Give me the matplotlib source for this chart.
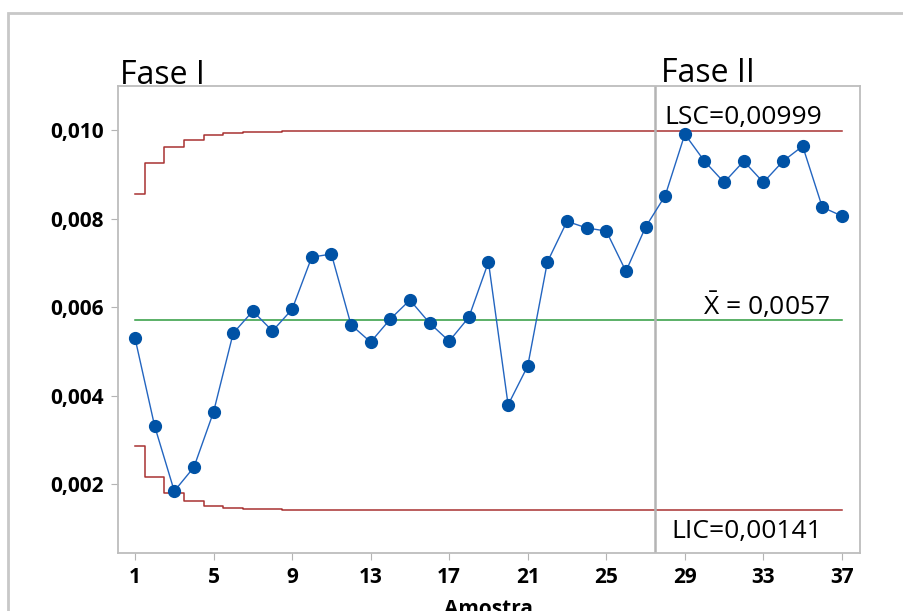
import numpy as np
import matplotlib.pyplot as plt
from matplotlib.patches import Rectangle
from matplotlib.ticker import FuncFormatter

# dados (carta X individual)
amostra = np.arange(1, 38)
valores = [0.00530, 0.00331, 0.00184, 0.00238, 0.00363, 0.00541, 0.00591, 0.00546,
           0.00595, 0.00713, 0.00720, 0.00560, 0.00521, 0.00573, 0.00616, 0.00564,
           0.00523, 0.00577, 0.00702, 0.00379, 0.00467, 0.00702, 0.00794, 0.00779,
           0.00772, 0.00681, 0.00781, 0.00852, 0.00991, 0.00930, 0.00882, 0.00930,
           0.00882, 0.00930, 0.00964, 0.00826, 0.00806]
lsc = [0.00855, 0.00925, 0.00961, 0.00979, 0.00989, 0.00994, 0.00997, 0.00997] + [0.00999] * 29
lic = [0.00285, 0.00215, 0.00179, 0.00161, 0.00151, 0.00146, 0.00143, 0.00143] + [0.00141] * 29
media = 0.0057
fim_fase1 = 27.5
xticks = [1, 5, 9, 13, 17, 21, 25, 29, 33, 37]
yticks = [0.002, 0.004, 0.006, 0.008, 0.010]

plt.rcParams['font.family'] = ['Open Sans', 'DejaVu Sans']
plt.rcParams['mathtext.fontset'] = 'custom'
plt.rcParams['mathtext.rm'] = 'Open Sans'

fig = plt.figure(figsize=(9.04, 6.11), dpi=100)
ax = fig.add_axes([118/904, 1 - 553/611, (860-118)/904, (553-86)/611])

# moldura externa (cortada na imagem original)
fig.patches.append(Rectangle((8/904, -0.1), 1.2, (611-12.7)/611 + 0.1, transform=fig.transFigure,
                             fill=False, edgecolor='#C8C8C8', linewidth=2))

ax.step(amostra, lsc, where='mid', color='#A83232', linewidth=1.1)
ax.step(amostra, lic, where='mid', color='#A83232', linewidth=1.1)
ax.plot([amostra[0], amostra[-1]], [media, media], color='#2E9B3E', linewidth=1.1)
ax.axvline(fim_fase1, color='#B4B4B4', linewidth=1.8)
ax.plot(amostra, valores, color='#2365C0', linewidth=1, marker='o',
        markersize=8.5, markerfacecolor='#0052A5', markeredgecolor='#0052A5')

ax.set_xlim(0.134, 37.92)
ax.set_ylim(0.00044, 0.0110)
ax.set_xticks(xticks)
ax.set_yticks(yticks)
ax.yaxis.set_major_formatter(FuncFormatter(lambda v, p: ('%.3f' % v).replace('.', ',')))
ax.tick_params(length=5, color='#B4B4B4', labelsize=15, pad=5)
for lab in ax.get_xticklabels() + ax.get_yticklabels():
    lab.set_fontweight('bold')
for s in ax.spines.values():
    s.set_color('#BDBDBD')
    s.set_linewidth(1.3)

ax.set_xlabel('Amostra', fontsize=15, fontweight='bold', labelpad=8)

# rotulos das linhas de controle
ax.text(36.0, lsc[-1] + 0.00014, 'LSC=0,00999', fontsize=19, ha='right', va='baseline')
ax.text(36.4, media + 0.00012, r'$\bar{\mathrm{X}}$ = 0,0057', fontsize=19, ha='right', va='baseline')
ax.text(36.0, lic[-1] - 0.00063, 'LIC=0,00141', fontsize=19, ha='right', va='baseline')

fig.text(120/904, 1 - 84/611, 'Fase I', fontsize=23, va='baseline')
fig.text(661/904, 1 - 82/611, 'Fase II', fontsize=23, va='baseline')

fig.savefig('out.png', dpi=100)
